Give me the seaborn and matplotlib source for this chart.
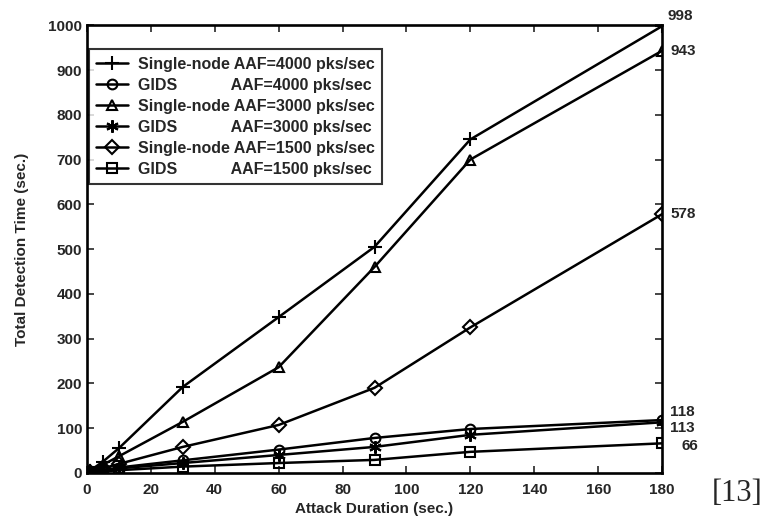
import matplotlib
matplotlib.use("Agg")
import matplotlib.pyplot as plt
import seaborn as sns
import pandas as pd

durations = [1, 5, 10, 30, 60, 90, 120, 180]
single_4000 = [5, 25, 55, 192, 348, 505, 745, 998]
gids_4000 = [2, 6, 12, 28, 52, 78, 98, 118]
single_3000 = [4, 18, 37, 114, 236, 460, 700, 943]
gids_3000 = [1, 5, 10, 22, 40, 58, 85, 113]
single_1500 = [2, 10, 20, 58, 107, 190, 325, 578]
gids_1500 = [1, 3, 6, 14, 22, 29, 47, 66]

labels = [
    "Single-node AAF=4000 pks/sec",
    "GIDS            AAF=4000 pks/sec",
    "Single-node AAF=3000 pks/sec",
    "GIDS            AAF=3000 pks/sec",
    "Single-node AAF=1500 pks/sec",
    "GIDS            AAF=1500 pks/sec",
]
series = [single_4000, gids_4000, single_3000, gids_3000, single_1500, gids_1500]
markers = ["+", "o", "^", (6, 2, 0), "D", "s"]
end_labels = ["998", "118", "943", "113", "578", "66"]
end_offsets = [(4, 7), (6, 6), (6, 0), (6, -4), (6, 0), (14, -2)]

sns.set_style("white")
plt.rcParams["font.family"] = ["Liberation Sans Narrow", "Liberation Sans", "DejaVu Sans"]
plt.rcParams["font.weight"] = "bold"

fig = plt.figure(figsize=(7.69, 5.26), dpi=100)
ax = fig.add_axes([0.113, 0.101, 0.748, 0.851])

for vals, lab, mk in zip(series, labels, markers):
    df = pd.DataFrame({"x": durations, "y": vals})
    ms = 10 if mk == "+" else (9 if isinstance(mk, tuple) else 7)
    sns.lineplot(data=df, x="x", y="y", ax=ax, color="black", linewidth=1.8,
                 marker=mk, markersize=ms, markerfacecolor="none",
                 markeredgecolor="black", markeredgewidth=1.5, label=lab)

for vals, txt, off in zip(series, end_labels, end_offsets):
    ax.annotate(txt, xy=(durations[-1], vals[-1]), xytext=off,
                textcoords="offset points", fontsize=11, fontweight="bold",
                va="center", ha="left", annotation_clip=False)

ax.set_xlim(0, 180)
ax.set_ylim(0, 1000)
ax.set_xticks(range(0, 181, 20))
ax.set_yticks(range(0, 1001, 100))
ax.tick_params(direction="in", length=5, labelsize=11, width=1.2,
               top=True, right=True, bottom=True, left=True)
ax.tick_params(axis="x", pad=7)
for lbl in ax.get_xticklabels() + ax.get_yticklabels():
    lbl.set_fontweight("bold")
for sp in ax.spines.values():
    sp.set_linewidth(1.9)
    sp.set_color("black")
ax.set_xlabel("Attack Duration (sec.)", fontsize=11, fontweight="bold", labelpad=4)
ax.set_ylabel("Total Detection Time (sec.)", fontsize=11, fontweight="bold", labelpad=14)

leg = ax.legend(loc="upper left", bbox_to_anchor=(0.004, 0.946), frameon=True,
                fancybox=False, edgecolor="black", fontsize=11.5,
                handlelength=2.0, borderpad=0.45, labelspacing=0.38,
                handletextpad=0.6, borderaxespad=0.0)
leg.get_frame().set_linewidth(1.5)
for t in leg.get_texts():
    t.set_fontweight("bold")

fig.text(0.992, 0.035, "[13]", fontsize=22, family=["Liberation Serif", "DejaVu Serif"],
         fontweight="normal", ha="right", va="bottom")

fig.savefig("out.png", dpi=100)
